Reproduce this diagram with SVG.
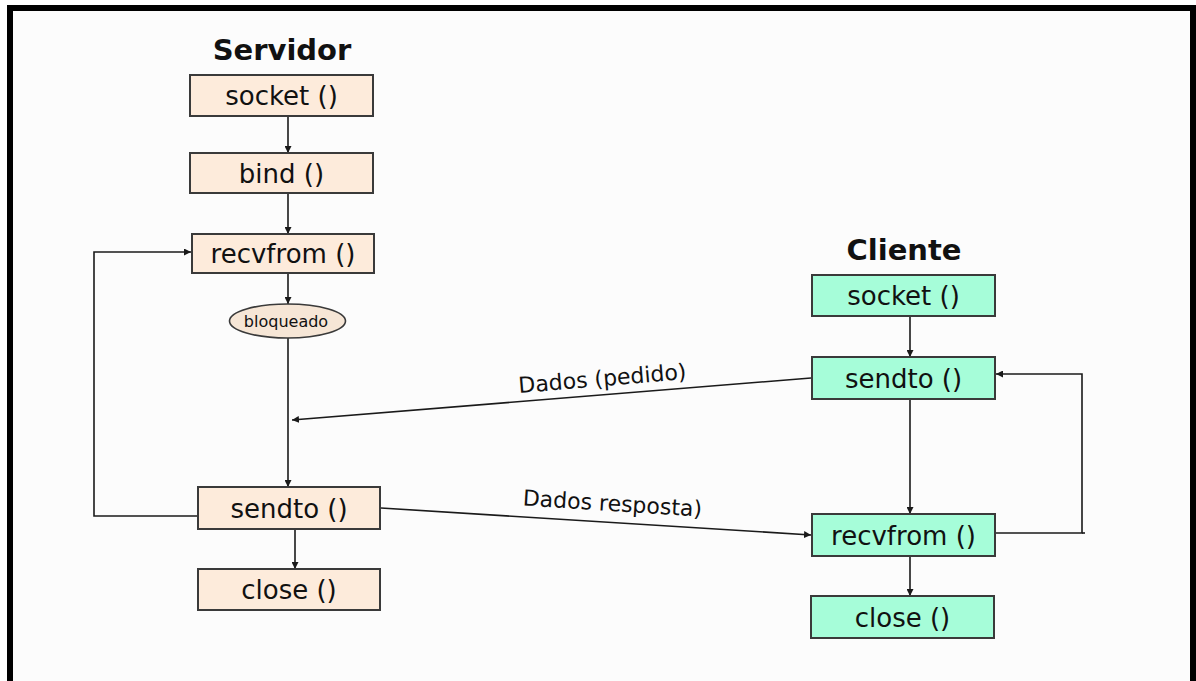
<svg xmlns="http://www.w3.org/2000/svg" width="1196" height="681" viewBox="0 0 1196 681">
  <style>
    .srv { fill: #fdebdb; stroke: #3a3a3a; stroke-width: 2; }
    .cli { fill: #a6fdd9; stroke: #3a3a3a; stroke-width: 2; }
    .lbl { font-family: "DejaVu Sans", Verdana, sans-serif; font-size: 26px; fill: #111; text-anchor: middle; }
    .ttl { font-family: "DejaVu Sans", Verdana, sans-serif; font-size: 29px; font-weight: bold; fill: #111; text-anchor: middle; }
    .msg { font-family: "DejaVu Sans", Verdana, sans-serif; font-size: 22px; fill: #111; text-anchor: middle; }
    .ln { fill: none; stroke: #1a1a1a; stroke-width: 1.6; }
  </style>
  <defs>
    <marker id="ah" viewBox="0 0 10 10" refX="10" refY="5" markerWidth="7" markerHeight="7" markerUnits="userSpaceOnUse" orient="auto">
      <path d="M0,0 L10,5 L0,10 Z" fill="#1a1a1a"/>
    </marker>
  </defs>

  <!-- page frame -->
  <rect x="0" y="0" width="1196" height="681" fill="#ffffff"/>
  <rect x="10" y="8" width="1183" height="680" fill="#fcfcfc" stroke="#000" stroke-width="6"/>

  <!-- titles -->
  <text class="ttl" x="282" y="60">Servidor</text>
  <text class="ttl" x="904" y="260">Cliente</text>

  <!-- connectors -->
  <g id="connectors">
    <line class="ln" x1="288" y1="117" x2="288" y2="153" marker-end="url(#ah)"/>
    <line class="ln" x1="288" y1="194" x2="288" y2="234" marker-end="url(#ah)"/>
    <line class="ln" x1="288" y1="274" x2="288" y2="304" marker-end="url(#ah)"/>
    <line class="ln" x1="288" y1="338" x2="288" y2="487" marker-end="url(#ah)"/>
    <polyline class="ln" points="198,516 94,516 94,252 191,252" marker-end="url(#ah)"/>
    <line class="ln" x1="295" y1="530" x2="295" y2="569" marker-end="url(#ah)"/>

    <line class="ln" x1="910" y1="317" x2="910" y2="357" marker-end="url(#ah)"/>
    <line class="ln" x1="910" y1="400" x2="910" y2="514" marker-end="url(#ah)"/>
    <line class="ln" x1="910" y1="557" x2="910" y2="596" marker-end="url(#ah)"/>
    <polyline class="ln" points="996,533 1082,533 1082,374 996,374" marker-end="url(#ah)"/>
    <line class="ln" x1="1082" y1="533" x2="1085" y2="533"/>

    <line class="ln" x1="811" y1="378" x2="292" y2="420" marker-end="url(#ah)"/>
    <line class="ln" x1="381" y1="508" x2="811" y2="535" marker-end="url(#ah)"/>
    <text class="msg" x="603" y="386" transform="rotate(-4.8 603 386)">Dados (pedido)</text>
    <text class="msg" x="612" y="511" transform="rotate(3.6 612 511)">Dados resposta)</text>
  </g>

  <!-- server side -->
  <g id="srv-socket">
    <rect class="srv" x="190" y="75" width="183" height="41"/>
    <text class="lbl" x="281.5" y="105">socket ()</text>
  </g>
  <g id="srv-bind">
    <rect class="srv" x="190" y="153" width="183" height="40"/>
    <text class="lbl" x="281.5" y="183">bind ()</text>
  </g>
  <g id="srv-recvfrom">
    <rect class="srv" x="192" y="234" width="182" height="39"/>
    <text class="lbl" x="283" y="263">recvfrom ()</text>
  </g>
  <g id="srv-bloqueado">
    <ellipse cx="287.5" cy="321" rx="58" ry="17" fill="#f6e6d6" stroke="#3a3a3a" stroke-width="1.6"/>
    <text x="286" y="327" font-family="DejaVu Sans, Verdana, sans-serif" font-size="16" fill="#111" text-anchor="middle">bloqueado</text>
  </g>
  <g id="srv-sendto">
    <rect class="srv" x="198" y="487" width="182" height="42"/>
    <text class="lbl" x="289" y="518">sendto ()</text>
  </g>
  <g id="srv-close">
    <rect class="srv" x="198" y="569" width="182" height="41"/>
    <text class="lbl" x="289" y="599">close ()</text>
  </g>

  <!-- client side -->
  <g id="cli-socket">
    <rect class="cli" x="812" y="275" width="183" height="41"/>
    <text class="lbl" x="903.5" y="305">socket ()</text>
  </g>
  <g id="cli-sendto">
    <rect class="cli" x="812" y="357" width="183" height="42"/>
    <text class="lbl" x="903.5" y="388">sendto ()</text>
  </g>
  <g id="cli-recvfrom">
    <rect class="cli" x="812" y="514" width="183" height="42"/>
    <text class="lbl" x="903.5" y="545">recvfrom ()</text>
  </g>
  <g id="cli-close">
    <rect class="cli" x="811" y="596" width="183" height="42"/>
    <text class="lbl" x="902.5" y="627">close ()</text>
  </g>
</svg>
